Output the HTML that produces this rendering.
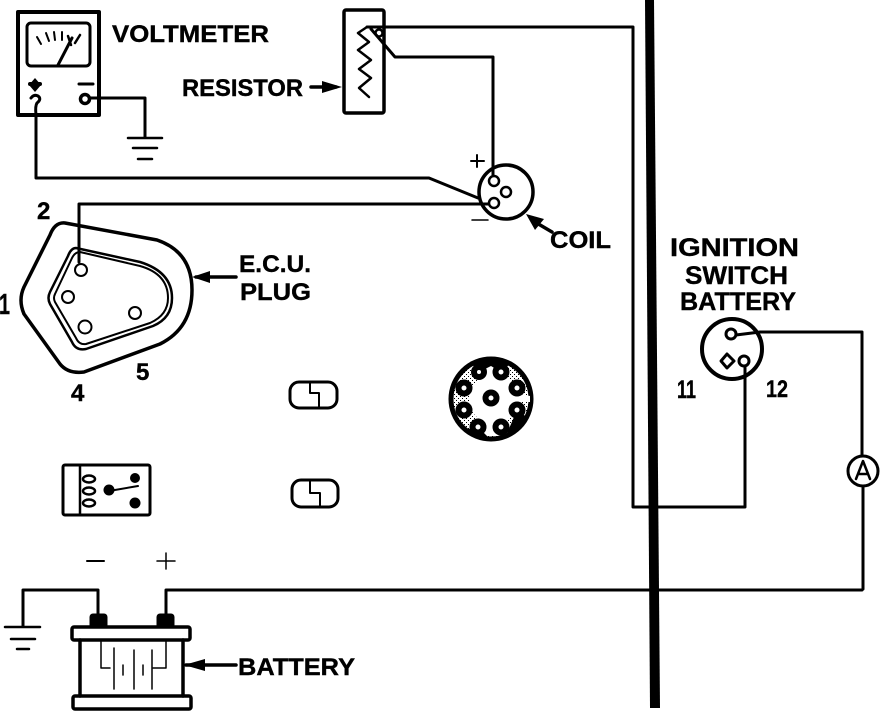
<!DOCTYPE html>
<html>
<head>
<meta charset="utf-8">
<style>
html,body{margin:0;padding:0;background:#fff;width:896px;height:712px;overflow:hidden}
svg{display:block}
text{font-family:"Liberation Sans",sans-serif;font-weight:bold;fill:#000;stroke:#000;stroke-width:.4}
</style>
</head>
<body>
<svg width="896" height="712" viewBox="0 0 896 712" xmlns="http://www.w3.org/2000/svg">
<defs>
  <pattern id="st" width="4" height="4" patternUnits="userSpaceOnUse">
    <rect x="0" y="0" width="1" height="1" fill="#000"/>
    <rect x="2" y="2" width="1" height="1" fill="#000"/>
  </pattern>
</defs>
<g fill="none" stroke="#000" stroke-width="3" stroke-linejoin="round" stroke-linecap="round">
  <!-- main bar -->
  <polygon points="645,0 654,0 660,708 650,708" fill="#000" stroke="none"/>

  <!-- voltmeter -->
  <rect x="18" y="12" width="81" height="103" stroke-width="4"/>
  <rect x="27" y="23" width="63" height="43" rx="4" stroke-width="3"/>
  <path d="M37,37l4,7M46,33l3,8M54,32l1,8M62,32l0,8" stroke-width="2"/>
  <path d="M58,65L72,38" stroke-width="3"/>
  <path d="M68,36l3,9M80,35l-5,8" stroke-width="2.5"/>
  <path d="M30,84h10" stroke-width="4"/>
  <polygon points="35,78 41,85 35,92 29,85" fill="#000" stroke="none"/>
  <path d="M31,98q3,-4 7,-2q4,3 -1,7q-2,3 -1,12" stroke-width="3"/>
  <path d="M79,84h14" stroke-width="3"/>
  <circle cx="85" cy="99" r="4.5" stroke-width="3.5"/>
  <path d="M91,98H145V137" stroke-width="3"/>
  <path d="M128,138H162M133,148H157M138,159H152" stroke-width="2.5"/>
  <path d="M36,115V178H429L478,198" stroke-width="3"/>

  <!-- resistor -->
  <rect x="344" y="10" width="40" height="103" rx="2" stroke-width="3.5"/>
  <path d="M367,27L358,33L369,42L358,50L371,60L359,69L371,78L359,88L369,97" stroke-width="2.5"/>
  <circle cx="379" cy="33" r="3.5" stroke-width="2.5"/>
  <path d="M367,27H633V507H745V382" stroke-width="3"/>
  <path d="M371,29L395,57H493V175" stroke-width="3"/>
  <path d="M311,87H336" stroke-width="3.5"/>
  <polygon points="322,81 342,87 322,93" fill="#000" stroke="none"/>

  <!-- coil -->
  <circle cx="506" cy="192" r="27" stroke-width="3.5"/>
  <circle cx="494" cy="181" r="5" stroke-width="2.5"/>
  <circle cx="506" cy="192" r="5" stroke-width="2.5"/>
  <circle cx="494" cy="203" r="5" stroke-width="2.5"/>
  <path d="M471,161H484M477,155V167" stroke-width="2"/>
  <path d="M472,220H488" stroke-width="1.5"/>
  <path d="M79,262V204H488" stroke-width="3"/>
  <path d="M552,232L535,222" stroke-width="3.5"/>
  <polygon points="526,214 544,219 535,230" fill="#000" stroke="none"/>

  <!-- ECU plug -->
  <path d="M65,223L157,240Q192,252 192,290Q192,328 160,344L84,372Q68,374 60,364L24,314Q18,300 24,287L50,235Q55,222 65,223Z" stroke-width="3.5"/>
  <path d="M76,248L140,262Q172,272 172,298Q172,318 153,326L86,349Q76,351 72,342L50,304Q47,298 50,292L68,256Q71,248 76,248Z" stroke-width="2.5"/>
  <path d="M80,252L140,266Q168,274 168,298Q168,315 150,323L86,344Q79,345 76,338L55,302Q53,298 55,294L72,258Q75,252 80,252Z" stroke-width="2"/>
  <circle cx="81" cy="270" r="6" stroke-width="2"/>
  <circle cx="68" cy="297" r="6" stroke-width="2"/>
  <circle cx="85" cy="327" r="6.5" stroke-width="2"/>
  <circle cx="135" cy="313" r="6" stroke-width="2"/>
  <path d="M196,277H236" stroke-width="3.5"/>
  <polygon points="192,277 210,271 210,283" fill="#000" stroke="none"/>

  <!-- connectors -->
  <rect x="290" y="382" width="47" height="26" rx="9" stroke-width="3"/>
  <path d="M310,382V393H319V408" stroke-width="2"/>
  <rect x="292" y="480" width="46" height="27" rx="9" stroke-width="3"/>
  <path d="M310,480V493H320V507" stroke-width="2"/>

  <!-- distributor -->
  <circle cx="491" cy="399" r="40" fill="#fff" stroke-width="5"/>
  <circle cx="491" cy="399" r="38" fill="url(#st)" stroke="none"/>
  <circle cx="494" cy="399" r="25" fill="#fff" stroke="none"/>
  <polygon points="484,360 496,360 498,382 482,382" fill="#fff" stroke="none"/>
  <polygon points="482,415 500,415 498,436 484,436" fill="#fff" stroke="none"/>
  <polygon points="510,392 530,396 530,402 510,402" fill="#fff" stroke="none"/>
  <path d="M470,362Q491,352 512,362L501,372L491,366L479,372Z" fill="#000" stroke="none"/>
  <path d="M464,430Q478,442 491,440L478,427Z" fill="#000" stroke="none"/>
  <path d="M505,438Q520,432 528,418L517,410Z" fill="#000" stroke="none"/>
  <g stroke-width="6" fill="#fff">
    <circle cx="479" cy="372" r="5"/>
    <circle cx="501" cy="372" r="5.5"/>
    <circle cx="517" cy="388" r="5.5"/>
    <circle cx="517" cy="410" r="5.5"/>
    <circle cx="501" cy="427" r="5.5"/>
    <circle cx="478" cy="427" r="5.5"/>
    <circle cx="464" cy="410" r="5.5"/>
    <circle cx="464" cy="388" r="5.5"/>
    <circle cx="491" cy="398" r="5.5"/>
  </g>

  <!-- relay -->
  <rect x="63" y="465" width="87" height="50" rx="2" stroke-width="3"/>
  <path d="M80,466V514" stroke-width="2.5"/>
  <ellipse cx="89" cy="479" rx="6" ry="3.5" stroke-width="2.5"/>
  <ellipse cx="89" cy="491" rx="6" ry="3.5" stroke-width="2.5"/>
  <ellipse cx="89" cy="503" rx="6" ry="3.5" stroke-width="2.5"/>
  <circle cx="135" cy="478" r="5" fill="#000" stroke="none"/>
  <circle cx="135" cy="503" r="5.5" fill="#000" stroke="none"/>
  <circle cx="109" cy="490" r="5.5" fill="#000" stroke="none"/>
  <path d="M109,491L138,486" stroke-width="2"/>

  <!-- polarity marks -->
  <path d="M87,561H104" stroke-width="2"/>
  <path d="M157,561H175M166,553V569" stroke-width="1.5"/>

  <!-- battery wires and ground -->
  <path d="M23,626V590H98V614" stroke-width="3"/>
  <path d="M166,614V590H862" stroke-width="3"/>
  <path d="M5,627H40M11,639H35M17,649H29" stroke-width="2.5"/>

  <!-- battery -->
  <rect x="90" y="614" width="17" height="14" rx="3" fill="#000" stroke-width="1"/>
  <rect x="157" y="614" width="17" height="14" rx="3" fill="#000" stroke-width="1"/>
  <rect x="72" y="627" width="118" height="13" rx="2" stroke-width="3.5"/>
  <path d="M80,640V696M183,640V696" stroke-width="3.5"/>
  <rect x="73" y="696" width="118" height="13" rx="2" stroke-width="3.5"/>
  <path d="M101,640V668H110M166,640V668H153" stroke-width="1.5"/>
  <path d="M114,648V689M134,650V689M152,650V689M123,665V675M143,665V675" stroke-width="1.5"/>
  <path d="M186,665H236" stroke-width="3.5"/>
  <polygon points="184,665 205,659 205,671" fill="#000" stroke="none"/>

  <!-- ignition switch -->
  <circle cx="732" cy="349" r="30" stroke-width="4"/>
  <circle cx="731" cy="334" r="5" stroke-width="3"/>
  <path d="M736,335L760,332H862V456" stroke-width="3"/>
  <polygon points="721,361 727,354 734,361 727,368" stroke-width="3"/>
  <circle cx="744" cy="361" r="5" stroke-width="3"/>
  <path d="M745,367V382" stroke-width="3"/>

  <!-- ammeter -->
  <circle cx="863" cy="471" r="15" stroke-width="3"/>
  <path d="M863,487V589" stroke-width="3"/>
  <path d="M856,479L863,461L870,479M858,474H868" stroke-width="2.5"/>
</g>

<!-- labels -->
<text x="112" y="42" font-size="24" textLength="157" lengthAdjust="spacingAndGlyphs">VOLTMETER</text>
<text x="182" y="96" font-size="24" textLength="121" lengthAdjust="spacingAndGlyphs">RESISTOR</text>
<text x="550" y="248" font-size="24" textLength="61" lengthAdjust="spacingAndGlyphs">COIL</text>
<text x="239" y="272" font-size="24" textLength="72" lengthAdjust="spacingAndGlyphs">E.C.U.</text>
<text x="240" y="300" font-size="24" textLength="71" lengthAdjust="spacingAndGlyphs">PLUG</text>
<text x="37" y="219" font-size="24">2</text>
<text x="-1" y="314" font-size="29" textLength="11" lengthAdjust="spacingAndGlyphs">1</text>
<text x="71" y="401" font-size="24">4</text>
<text x="136" y="380" font-size="24">5</text>
<text x="670" y="256" font-size="25" textLength="129" lengthAdjust="spacingAndGlyphs">IGNITION</text>
<text x="685" y="284" font-size="25" textLength="103" lengthAdjust="spacingAndGlyphs">SWITCH</text>
<text x="680" y="310" font-size="25" textLength="116" lengthAdjust="spacingAndGlyphs">BATTERY</text>
<text x="677" y="398" font-size="25" textLength="19" lengthAdjust="spacingAndGlyphs">11</text>
<text x="766" y="397" font-size="24" textLength="22" lengthAdjust="spacingAndGlyphs">12</text>
<text x="238" y="675" font-size="24" textLength="117" lengthAdjust="spacingAndGlyphs">BATTERY</text>
</svg>
</body>
</html>
